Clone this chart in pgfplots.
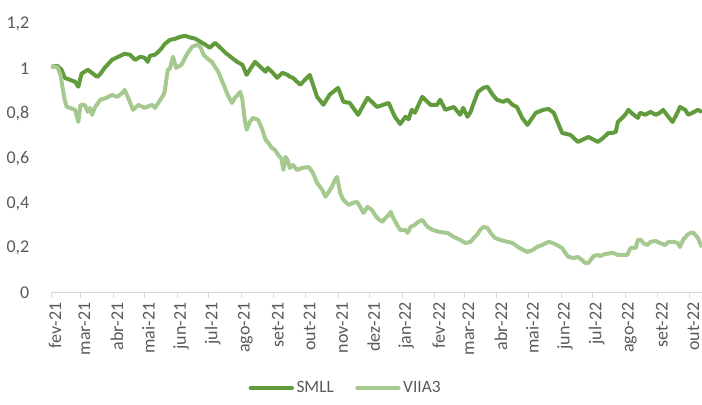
\documentclass[border=0pt]{standalone}
\usepackage{fontspec}
\setmainfont{Carlito}
\usepackage{pgfplots}
\pgfplotsset{compat=1.18}
\definecolor{smll}{RGB}{98,155,60}
\definecolor{viia}{RGB}{166,201,143}
\definecolor{txt}{RGB}{89,89,89}
\definecolor{axl}{RGB}{217,217,217}

\begin{document}
\begin{tikzpicture}
\begin{axis}[
  name=ax,
  scale only axis,
  width=488.25pt, height=201.75pt,
  xmin=0, xmax=619, ymin=0, ymax=1.2,
  axis x line*=bottom, axis y line*=left,
  y axis line style={draw=none},
  x axis line style={axl, line width=0.75pt},
  xtick={0,28,59,89,120,150,181,212,242,273,303,334,365,393,424,454,485,515,546,577,607},
  xticklabels={fev-21,mar-21,abr-21,mai-21,jun-21,jul-21,ago-21,set-21,out-21,nov-21,dez-21,jan-22,fev-22,mar-22,abr-22,mai-22,jun-22,jul-22,ago-22,set-22,out-22},
  x tick style={axl, line width=0.75pt},
  tick align=outside,
  major tick length=3.75pt,
  xticklabel style={rotate=90, anchor=east, font=\fontsize{13.5}{16}\selectfont, text=txt, yshift=-3pt},
  ytick={0,0.2,0.4,0.6,0.8,1,1.2},
  y tick style={draw=none},
  yticklabel style={/pgf/number format/.cd, use comma, fixed, precision=1, assume math mode=true,
    /tikz/.cd, font=\fontsize{13.5}{16}\selectfont, text=txt, xshift=-9pt},
  legend style={at={(0.453,-0.352)}, anchor=center, draw=none, fill=none,
    font=\fontsize{13}{15}\selectfont, text=txt, legend columns=2,
    /tikz/every even column/.append style={column sep=14pt}},
  legend image code/.code={\draw[#1, line width=3pt, line cap=round] (0pt,0pt) -- (31pt,0pt);},
]
\addplot[smll, line width=3pt, line join=round] coordinates {
(0,1.009) (6,1.013) (10,0.996) (13,0.960) (18,0.951) (23,0.942) (26,0.920) (29,0.978)
(35,0.996) (40,0.978) (44,0.964) (47,0.978) (51,1.004) (58,1.040) (64,1.054) (70,1.067)
(75,1.063) (80,1.040) (85,1.054) (89,1.049) (92,1.031) (94,1.058) (99,1.063) (104,1.085)
(108,1.110) (113,1.129) (118,1.134) (123,1.143) (128,1.147) (132,1.140) (137,1.135) (142,1.121)
(147,1.107) (151,1.094) (156,1.116) (161,1.094) (166,1.071) (172,1.049) (177,1.031) (182,1.018)
(186,0.973) (189,0.996) (194,1.031) (199,1.009) (204,0.987) (206,1.004) (210,0.987) (215,0.960)
(220,0.982) (225,0.973) (227,0.965) (230,0.960) (237,0.929) (246,0.973) (253,0.875) (259,0.840)
(265,0.885) (273,0.915) (278,0.853) (284,0.848) (292,0.795) (301,0.871) (310,0.830) (321,0.848)
(327,0.786) (332,0.754) (337,0.786) (340,0.775) (343,0.817) (346,0.804) (353,0.875) (361,0.839)
(367,0.839) (370,0.862) (375,0.817) (383,0.830) (389,0.795) (392,0.826) (396,0.786) (399,0.808)
(402,0.848) (406,0.897) (411,0.915) (415,0.920) (420,0.884) (424,0.862) (430,0.853) (434,0.862)
(439,0.839) (443,0.830) (448,0.781) (453,0.750) (461,0.804) (468,0.817) (473,0.821) (478,0.804)
(486,0.714) (494,0.705) (501,0.674) (511,0.696) (520,0.674) (525,0.692) (530,0.714) (534,0.714)
(537,0.719) (539,0.763) (543,0.781) (546,0.795) (549,0.817) (553,0.799) (558,0.781) (560,0.804)
(565,0.795) (570,0.808) (575,0.795) (579,0.804) (582,0.817) (587,0.786) (591,0.763) (596,0.808)
(598,0.830) (603,0.817) (606,0.795) (610,0.804) (615,0.817) (619,0.808)
};
\addlegendentry{SMLL}
\addplot[viia, line width=3pt, line join=round] coordinates {
(0,1.009) (6,1.009) (9,0.973) (11,0.915) (13,0.862) (15,0.830) (18,0.826) (23,0.817)
(26,0.763) (28,0.839) (32,0.839) (35,0.808) (37,0.826) (39,0.795) (42,0.830) (47,0.862)
(53,0.871) (58,0.884) (63,0.875) (68,0.893) (70,0.906) (73,0.875) (78,0.817) (83,0.839)
(89,0.826) (96,0.839) (99,0.826) (104,0.862) (107,0.884) (108,0.897) (111,0.996) (113,1.000)
(116,1.054) (119,1.004) (124,1.018) (130,1.071) (134,1.098) (139,1.107) (142,1.098) (145,1.063)
(149,1.045) (153,1.031) (159,0.987) (163,0.942) (168,0.884) (172,0.848) (175,0.871) (180,0.897)
(182,0.862) (184,0.781) (186,0.728) (189,0.763) (192,0.781) (197,0.772) (201,0.728) (204,0.683)
(206,0.674) (210,0.647) (213,0.638) (216,0.616) (219,0.600) (221,0.549) (223,0.607) (225,0.594)
(227,0.558) (230,0.571) (234,0.549) (239,0.558) (245,0.562) (249,0.536) (253,0.491) (258,0.460)
(261,0.429) (264,0.451) (267,0.473) (270,0.504) (272,0.518) (275,0.446) (278,0.415) (283,0.393)
(287,0.402) (291,0.406) (294,0.384) (297,0.357) (301,0.384) (305,0.371) (310,0.335) (315,0.317)
(318,0.335) (321,0.348) (323,0.362) (325,0.339) (329,0.304) (332,0.281) (337,0.281) (339,0.268)
(342,0.295) (346,0.304) (349,0.317) (353,0.326) (358,0.295) (363,0.281) (370,0.272) (377,0.268)
(383,0.250) (389,0.237) (394,0.223) (399,0.228) (402,0.246) (405,0.259) (408,0.281) (411,0.295)
(415,0.290) (418,0.268) (422,0.246) (427,0.237) (434,0.228) (439,0.223) (444,0.205) (449,0.192)
(453,0.183) (458,0.192) (462,0.205) (467,0.214) (473,0.228) (477,0.223) (481,0.214) (486,0.201)
(489,0.179) (492,0.161) (497,0.156) (501,0.161) (505,0.147) (508,0.134) (511,0.134) (513,0.147)
(516,0.165) (520,0.170) (522,0.165) (527,0.174) (534,0.179) (539,0.170) (543,0.170) (548,0.170)
(551,0.201) (556,0.201) (558,0.237) (561,0.237) (563,0.223) (567,0.214) (570,0.228) (575,0.232)
(579,0.223) (584,0.214) (587,0.228) (592,0.228) (596,0.223) (598,0.205) (601,0.237) (605,0.259)
(608,0.268) (611,0.268) (615,0.246) (617,0.223) (619,0.205)
};
\addlegendentry{VIIA3}
\end{axis}
\pgfresetboundingbox
\path ([xshift=-38.25pt,yshift=-84pt]ax.south west) rectangle ([yshift=18pt]ax.north east);
\end{tikzpicture}
\end{document}
